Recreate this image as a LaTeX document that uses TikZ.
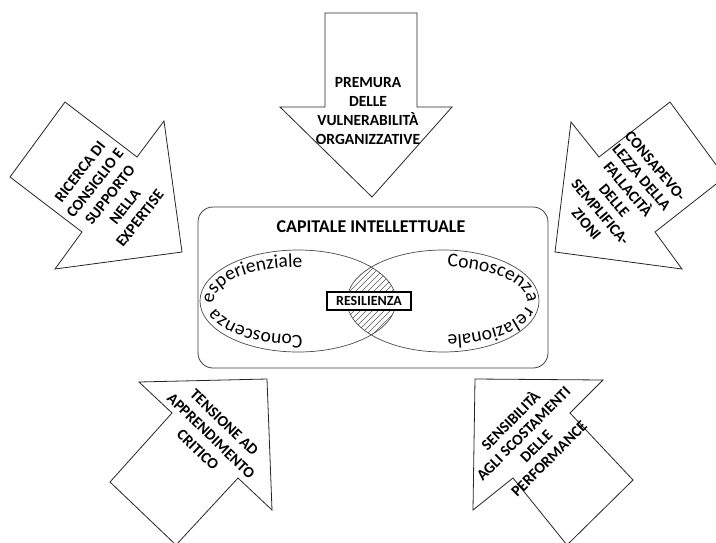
\documentclass[tikz,border=0pt]{standalone}
\usepackage{fontspec}
\setmainfont{Carlito}
\usetikzlibrary{decorations.text}
\begin{document}
\begin{tikzpicture}[x=1pt,y=1pt,
  arrowshape/.style={draw=black!85, line width=0.8pt, fill=white, line join=miter},
  arrowlabel/.style={font=\fontsize{15.5}{19}\selectfont\bfseries, align=center, inner sep=0pt},
  ellline/.style={draw=black!70, line width=0.7pt},
  hatchline/.style={draw=black!65, line width=0.5pt}]
\useasboundingbox (0,0) rectangle (716,-542);
\clip (0,0) rectangle (716,-542);
\fill[white] (0,0) rectangle (716,-542);

% arrows
\draw[arrowshape] (325,-13) -- (417,-13) -- (417,-107) -- (452,-107) -- (372,-197) -- (280,-107) -- (325,-107) -- cycle;
\draw[arrowshape] (65,-102) -- (137,-157) -- (164,-121) -- (182,-252) -- (55,-269) -- (82,-232) -- (10,-177) -- cycle;
\draw[arrowshape] (670,-102) -- (725,-177) -- (655,-232) -- (682,-269) -- (555,-252) -- (571,-122) -- (599,-157) -- cycle;
\draw[arrowshape] (139,-382) -- (267,-379) -- (272,-510) -- (238,-478) -- (176,-545) -- (110,-482) -- (172,-413) -- cycle;
\draw[arrowshape] (475,-379) -- (603,-380) -- (570,-413) -- (633,-480) -- (567,-545) -- (513,-478) -- (473,-510) -- cycle;

\node[arrowlabel] (tl) at (368,-111) {PREMURA\\DELLE\\VULNERABILITÀ\\ORGANIZZATIVE};
\node[arrowlabel, rotate=52] (ll) at (110,-195) {RICERCA DI\\CONSIGLIO E\\SUPPORTO\\NELLA\\EXPERTISE};
\node[arrowlabel, rotate=-50, font=\fontsize{15.5}{18}\selectfont\bfseries] (rl) at (621,-195) {CONSAPEVO-\\LEZZA DELLA\\FALLACITÀ\\DELLE\\SEMPLIFICA-\\ZIONI};
\node[arrowlabel, rotate=-44] (bl) at (211,-436) {TENSIONE AD\\APPRENDIMENTO\\CRITICO};
\node[arrowlabel, rotate=45, font=\fontsize{15.5}{18}\selectfont\bfseries] (br) at (529,-439) {SENSIBILITÀ\\AGLI SCOSTAMENTI\\DELLE\\PERFORMANCE};

% central box
\draw[draw=black!75, line width=0.8pt, rounded corners=15pt] (198,-207) rectangle (548,-368);
\node[font=\fontsize{18}{21}\selectfont\bfseries] (title) at (371,-227) {CAPITALE INTELLETTUALE};

% hatch
\begin{scope}
\clip (298,-301) ellipse[x radius=98, y radius=51];
\clip (443,-301) ellipse[x radius=96, y radius=51];
\foreach \i in {-120,-114,...,120} {
  \draw[hatchline] (370+\i-60,-361) -- (370+\i+60,-241);
}
\end{scope}
\draw[ellline] (298,-301) ellipse[x radius=98, y radius=51];
\draw[ellline] (443,-301) ellipse[x radius=96, y radius=51];

\path[decorate, decoration={text along path, text align=center,
  text={|\fontsize{19.5}{23}\selectfont|Conoscenza esperienziale}}]
  (298,-301) ++(300:84 and 34) arc[start angle=300, end angle=60, x radius=84, y radius=34];
\path[decorate, decoration={text along path, text align=center,
  text={|\fontsize{19.5}{23}\selectfont|Conoscenza relazionale}}]
  (443,-301) ++(120:84 and 34) arc[start angle=120, end angle=-120, x radius=84, y radius=34];

\node[draw=black, line width=1.8pt, fill=white, minimum width=84pt, minimum height=18pt,
  inner sep=0pt, font=\fontsize{14}{16}\selectfont\bfseries] (res) at (369,-301) {RESILIENZA};
\end{tikzpicture}
\end{document}
